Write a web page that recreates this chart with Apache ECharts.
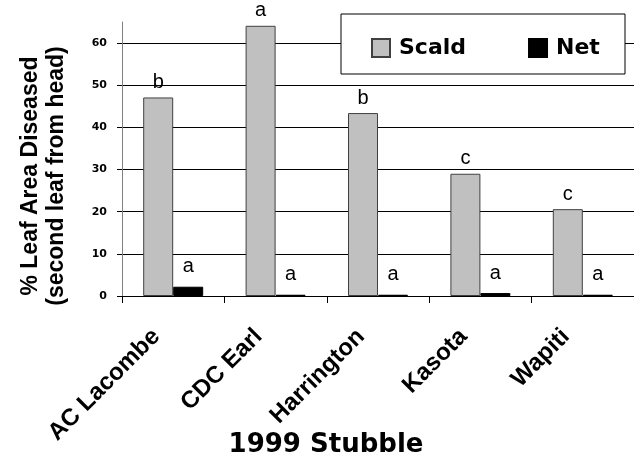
<!DOCTYPE html>
<html>
<head>
<meta charset="utf-8">
<script src="https://cdn.jsdelivr.net/npm/echarts@6/dist/echarts.min.js"></script>
<style>
  html, body { margin: 0; padding: 0; background: #fff; }
  #chart { width: 634px; height: 463px; }
</style>
</head>
<body>
<div id="chart"></div>
<script>
// cultivars on the x axis
const cultivars = ['AC Lacombe', 'CDC Earl', 'Harrington', 'Kasota', 'Wapiti'];
// % leaf area diseased
const scald = [47.1, 64.1, 43.4, 29.0, 20.6];
const net = [2.2, 0.3, 0.3, 0.7, 0.3];
// significance letters above the bars
const scaldLetters = ['b', 'a', 'b', 'c', 'c'];
const netLetters = ['a', 'a', 'a', 'a', 'a'];
// y tick values
const yTicks = [0, 10, 20, 30, 40, 50, 60];

const chart = echarts.init(document.getElementById('chart'), null, { renderer: 'canvas' });

const letterLabel = (letters, dist) => ({
  show: true,
  position: 'top',
  distance: dist,
  color: '#000',
  fontFamily: '"Liberation Sans", Arial, sans-serif',
  fontSize: 20,
  formatter: p => letters[p.dataIndex]
});

chart.setOption({
  animation: false,
  backgroundColor: '#fff',
  grid: { left: 122, right: 0, top: 22, bottom: 167 },
  legend: {
    left: 371,
    top: 37,
    z: 20,
    padding: 0,
    itemWidth: 18,
    itemHeight: 18,
    itemGap: 62,
    icon: 'rect',
    textStyle: {
      fontFamily: '"DejaVu Sans", sans-serif',
      fontWeight: 'bold',
      fontSize: 22,
      color: '#000',
      padding: [0, 0, 0, 4]
    },
    data: ['Scald', 'Net']
  },
  xAxis: {
    type: 'category',
    data: cultivars,
    axisLine: { lineStyle: { color: '#000', width: 1 } },
    axisTick: { show: true, length: 7, lineStyle: { color: '#000' } },
    axisLabel: {
      rotate: 45,
      interval: 0,
      margin: 20,
      padding: [0, 24, 0, 0],
      color: '#000',
      fontFamily: '"Liberation Sans", Arial, sans-serif',
      fontWeight: 'bold',
      fontSize: 24
    }
  },
  yAxis: {
    type: 'value',
    min: 0,
    max: 65,
    interval: 10,
    axisLine: { show: true, lineStyle: { color: '#808080', width: 1 } },
    axisTick: { show: true, length: 5, customValues: yTicks, lineStyle: { color: '#000' } },
    axisLabel: {
      margin: 15,
      customValues: yTicks,
      color: '#000',
      fontFamily: '"DejaVu Sans", sans-serif',
      fontWeight: 'bold',
      fontSize: 11
    },
    splitLine: { show: true, lineStyle: { color: '#000', width: 1 } }
  },
  series: [
    {
      name: 'Scald',
      type: 'bar',
      data: scald,
      barWidth: 30,
      barGap: '0%',
      itemStyle: { color: '#c0c0c0', borderColor: '#404040', borderWidth: 1 },
      label: letterLabel(scaldLetters, 5)
    },
    {
      name: 'Net',
      type: 'bar',
      data: net,
      barWidth: 30,
      itemStyle: { color: '#000', borderColor: '#000', borderWidth: 1 },
      label: letterLabel(netLetters, 10)
    }
  ],
  graphic: [
    {
      // legend frame
      type: 'rect',
      z: 10,
      shape: { x: 341, y: 14, width: 284, height: 60 },
      style: { fill: '#fff', stroke: '#000', lineWidth: 1 }
    },
    {
      type: 'text',
      x: 44,
      y: 176,
      rotation: Math.PI / 2,
      style: {
        text: '% Leaf Area Diseased\n(second leaf from head)',
        fontFamily: '"Liberation Sans", Arial, sans-serif',
        fontWeight: 'bold',
        fontSize: 23,
        lineHeight: 26,
        align: 'center',
        verticalAlign: 'middle',
        fill: '#000'
      }
    },
    {
      type: 'text',
      x: 326,
      y: 445,
      style: {
        text: '1999 Stubble',
        fontFamily: '"DejaVu Sans", sans-serif',
        fontWeight: 'bold',
        fontSize: 26,
        align: 'center',
        verticalAlign: 'middle',
        fill: '#000'
      }
    }
  ]
});
</script>
</body>
</html>
